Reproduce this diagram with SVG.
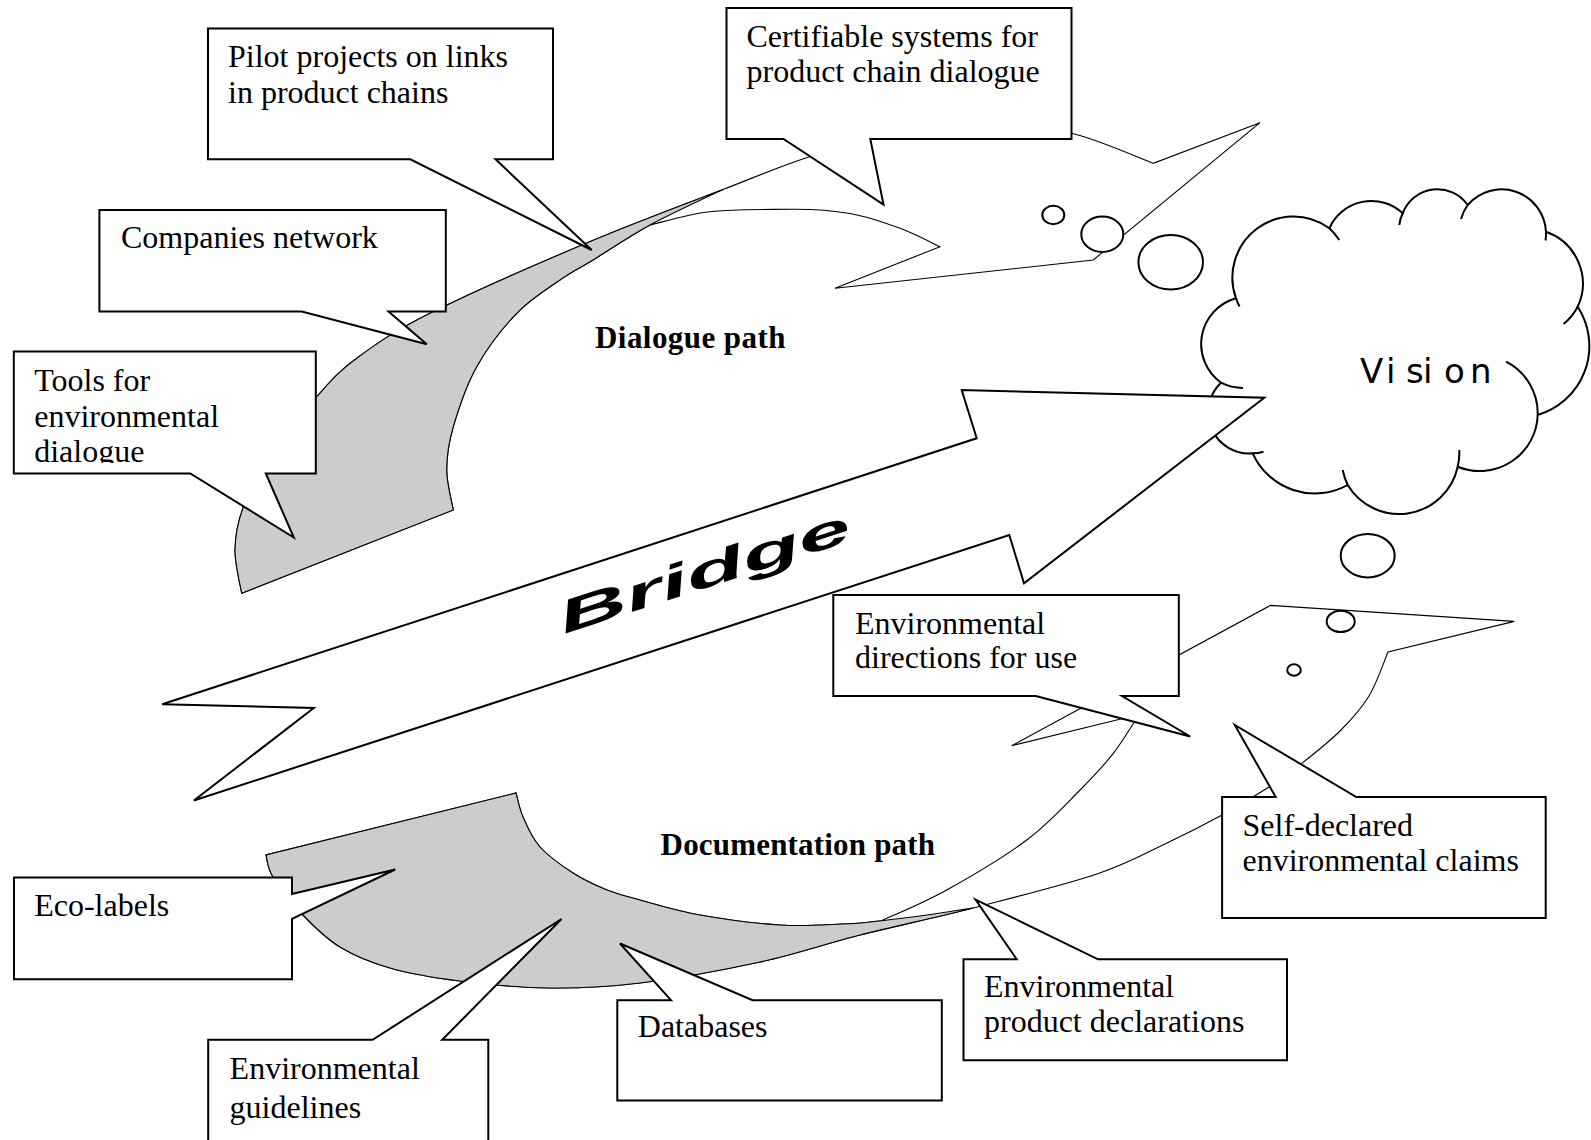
<svg xmlns="http://www.w3.org/2000/svg" width="1591" height="1140" viewBox="0 0 1591 1140">
<style>
.box{fill:#fff;stroke:#000;stroke-width:2;stroke-linejoin:miter}
.arr{fill:#fff;stroke:#000;stroke-width:1.1;stroke-linejoin:miter}
.gray{fill:#ccc;stroke:#000;stroke-width:1.1}
.bub{fill:#fff;stroke:#000;stroke-width:2}
.cl{fill:#fff;stroke:#000;stroke-width:2}
.stub{fill:none;stroke:#000;stroke-width:2}
.t{font-family:"Liberation Serif","Times New Roman",serif;font-size:32px;fill:#000}
.b{font-family:"Liberation Serif","Times New Roman",serif;font-size:31px;font-weight:bold;fill:#000}
</style>
<defs>
<clipPath id="toolsclip"><rect x="14" y="351" width="301" height="112"/></clipPath>
</defs>
<rect width="1591" height="1140" fill="#fff"/>

<g id="vision">
<path class="cl" d="M1236,298.3 A61 61 0 0 1 1329.3,228.3 A46 46 0 0 1 1402.7,213.3 A37 37 0 0 1 1467.7,205 A44.5 44.5 0 0 1 1546,231.7 A55 55 0 0 1 1577.7,306.7 A72 72 0 0 1 1537.7,415 A58 58 0 0 1 1457.7,466.7 A60 60 0 0 1 1347.7,485 A68 68 0 0 1 1252.7,453.3 A41 41 0 0 1 1221,382.7 A47.5 47.5 0 0 1 1236,298.3 Z"/>
<path class="stub" d="M1329.3,228.3 A61 61 0 0 1 1339.3,240 M1402.7,213.3 A37 37 0 0 0 1399.3,225 M1467.7,205 A44.5 44.5 0 0 0 1461,219 M1546,231.7 A44.5 44.5 0 0 1 1545.5,240.5 M1577.7,306.7 A55 55 0 0 1 1563.5,324 M1537.7,415 A58 58 0 0 0 1506,361.7 M1457.7,466.7 A60 60 0 0 0 1459.3,450 M1347.7,485 A60 60 0 0 1 1342.7,470 M1252.7,453.3 A41 41 0 0 0 1263.5,451.7 M1221,382.7 A47.5 47.5 0 0 0 1243,388 M1236,298.3 A61 61 0 0 0 1239.5,306.5"/>
<text x="1360 1386 1406 1423 1444 1470" y="383.3" font-family="DejaVu Sans, sans-serif" font-size="34" fill="#000">Vision</text>
</g>

<g id="connectors">
<g id="dialogue-path">
<path class="arr" d="M241.7,593.3 C240.6,586.1 234.8,564.2 235,550 C235.2,535.8 236.7,524.7 243,508 C249.3,491.3 260.7,468.6 273,450 C285.3,431.4 302.8,412 316.7,396.7 C330.6,381.4 337.8,372.2 356.7,358.3 C375.6,344.4 391.7,332.5 430,313.3 C468.3,294.1 537.9,263.6 586.7,243 C635.5,222.4 686.1,203.8 723,189.5 C759.9,175.2 778.5,167 808,157.3 C837.5,147.6 869.7,136.6 900,131 C930.3,125.4 961.4,123.6 990,124 C1018.6,124.4 1044.5,126.7 1071.7,133.3 C1098.9,139.9 1139.7,158.3 1153.3,163.3 L1260,122.7 L1093.3,260 L835,288.3 L940,246.7 C933.3,243.6 915,233.8 900,228.3 C885,222.8 868.3,216.7 850,213.5 C831.7,210.3 813.3,209 790,209.3 C766.7,209.6 733.3,209.1 710,211.7 C686.7,214.3 660,222.8 650,225 C628.3,236.8 608,250.8 593,260 C578,269.2 572.7,271.1 560,280 C547.3,288.9 530.6,298.9 516.7,313.3 C502.8,327.7 487.3,347.8 476.7,366.7 C466.1,385.6 458.3,409.5 453.3,426.7 C448.3,443.9 446.7,456.1 446.7,470 C446.7,483.9 452.2,503.3 453.3,510 Z"/>
<path class="gray" d="M241.7,593.3 C240.6,586.1 234.8,564.2 235,550 C235.2,535.8 236.7,524.7 243,508 C249.3,491.3 260.7,468.6 273,450 C285.3,431.4 302.8,412 316.7,396.7 C330.6,381.4 337.8,372.2 356.7,358.3 C375.6,344.4 391.7,332.5 430,313.3 C468.3,294.1 537.9,263.6 586.7,243 C635.5,222.4 686.1,203.8 723,189.5 C710.8,195.4 671.7,213.3 650,225 C628.3,236.8 608,250.8 593,260 C578,269.2 572.7,271.1 560,280 C547.3,288.9 530.6,298.9 516.7,313.3 C502.8,327.7 487.3,347.8 476.7,366.7 C466.1,385.6 458.3,409.5 453.3,426.7 C448.3,443.9 446.7,456.1 446.7,470 C446.7,483.9 452.2,503.3 453.3,510 Z"/>
</g>
<g id="documentation-path">
<path class="arr" d="M266,855 C267.2,858.7 266.8,867 273,877 C279.2,887 291.8,903.3 303,915 C314.2,926.7 325.5,938.2 340,947 C354.5,955.8 370,962.3 390,968 C410,973.7 433.3,977.7 460,981 C486.7,984.3 520,987.7 550,988 C580,988.3 605,987.3 640,983 C675,978.7 723.3,970 760,962 C796.7,954 824.5,944 860,935 C895.5,926 933.5,918.2 973,908 C1012.5,897.8 1064.3,885 1097,874 C1129.7,863 1148.2,851.8 1169,842 C1189.8,832.2 1205.3,824.2 1222,815 C1238.7,805.8 1255.8,795.5 1269,787 C1282.2,778.5 1289.2,773.3 1301,764 C1312.8,754.7 1328.7,742.3 1340,731 C1351.3,719.7 1361,709.2 1369,696 C1377,682.8 1384.8,659.3 1388,652 L1514.3,621.4 L1270.4,605.4 L1011.7,745.7 L1139,714.5 C1134.7,721 1123.1,740.7 1113.3,753.3 C1103.5,765.9 1094.4,775.5 1080,790 C1065.6,804.5 1048.9,823.3 1026.7,840 C1004.5,856.7 970.9,876.5 946.7,890 C922.5,903.5 892.5,915.6 881.7,920.7 C867.7,922.2 860,923.3 843,924 C826,924.7 803.8,926.5 780,925 C756.2,923.5 723.3,919.2 700,915 C676.7,910.8 655.5,904.2 640,900 C624.5,895.8 618.2,894.5 607,890 C595.8,885.5 584.2,880.2 573,873 C561.8,865.8 548.3,856.3 540,847 C531.7,837.7 527,826 523,817 C519,808 517.2,797 516,793 Z"/>
<path class="gray" d="M266,855 C267.2,858.7 266.8,867 273,877 C279.2,887 291.8,903.3 303,915 C314.2,926.7 325.5,938.2 340,947 C354.5,955.8 370,962.3 390,968 C410,973.7 433.3,977.7 460,981 C486.7,984.3 520,987.7 550,988 C580,988.3 605,987.3 640,983 C675,978.7 723.3,970 760,962 C796.7,954 824.5,944 860,935 C895.5,926 933.5,918.2 973,908 C965.3,909.2 942.2,912.9 927,915 C911.8,917.1 895.7,919.2 881.7,920.7 C867.7,922.2 860,923.3 843,924 C826,924.7 803.8,926.5 780,925 C756.2,923.5 723.3,919.2 700,915 C676.7,910.8 655.5,904.2 640,900 C624.5,895.8 618.2,894.5 607,890 C595.8,885.5 584.2,880.2 573,873 C561.8,865.8 548.3,856.3 540,847 C531.7,837.7 527,826 523,817 C519,808 517.2,797 516,793 Z"/>
</g>
<g id="bridge">
<polygon class="box" points="162.2,704.3 976.7,438.3 961.7,390 1264.3,397.7 1024,583.3 1009.3,535 193.9,800.5 313.8,708"/>
<text transform="translate(564,634) rotate(-18)" font-family="Liberation Sans, Arial, sans-serif" font-weight="bold" font-style="italic" font-size="46" textLength="305" lengthAdjust="spacingAndGlyphs" fill="#000">Bridge</text>
</g>
</g>

<g id="bubbles">
<ellipse class="bub" cx="1053.3" cy="215" rx="11" ry="9.3" stroke-width="1.6"/>
<ellipse class="bub" cx="1102.3" cy="234.3" rx="21" ry="17.7"/>
<ellipse class="bub" cx="1170.7" cy="262.3" rx="32.3" ry="27.3"/>
<ellipse class="bub" cx="1367.7" cy="555.7" rx="27" ry="21.7"/>
<ellipse class="bub" cx="1340.7" cy="621.4" rx="14" ry="10.7"/>
<ellipse class="bub" cx="1294" cy="670" rx="6.8" ry="5.7" stroke-width="1.6"/>
</g>

<g id="pilot-projects">
<path class="box" d="M208,28.4 H553 V159.3 H495.5 L591.7,250 L410.3,159.3 H208 Z"/>
<text class="t" x="228" y="67">Pilot projects on links</text>
<text class="t" x="228" y="102.6">in product chains</text>
</g>

<g id="certifiable-systems">
<path class="box" d="M726.5,8 H1071.5 V139 H870.3 L883.5,204.5 L783.5,139 H726.5 Z"/>
<text class="t" x="746.5" y="46.5">Certifiable systems for</text>
<text class="t" x="746.5" y="82.2">product chain dialogue</text>
</g>

<g id="companies-network">
<path class="box" d="M99.4,210 H445.8 V311.5 H388.5 L426.8,344.2 L301.8,311.5 H99.4 Z"/>
<text class="t" x="121" y="248.2">Companies network</text>
</g>

<g id="tools">
<path class="box" d="M13.8,351.5 H315.8 V473.4 H265.8 L293.8,537.5 L190.3,473.4 H13.8 Z"/>
<g clip-path="url(#toolsclip)">
<text class="t" x="34.2" y="391">Tools for</text>
<text class="t" x="34.2" y="426.7">environmental</text>
<text class="t" x="34.2" y="461.5">dialogue</text>
</g>
</g>

<g id="environmental-directions">
<path class="box" d="M833.3,595 H1178.8 V696 H1122 L1190.2,736.5 L1035.8,696 H833.3 Z"/>
<text class="t" x="855" y="633.5">Environmental</text>
<text class="t" x="855" y="668">directions for use</text>
</g>

<g id="self-declared">
<path class="box" d="M1222.1,797 H1275.7 L1234.8,725 L1356.3,797 H1545.7 V918 H1222.1 Z"/>
<text class="t" x="1242.5" y="835.7">Self-declared</text>
<text class="t" x="1242.5" y="871.2">environmental claims</text>
</g>

<g id="product-declarations">
<path class="box" d="M963.5,959.3 H1016.7 L975.5,899.5 L1098,959.3 H1287 V1060.2 H963.5 Z"/>
<text class="t" x="984" y="996.6">Environmental</text>
<text class="t" x="984" y="1032.2">product declarations</text>
</g>

<g id="databases">
<path class="box" d="M617.3,1000.2 H671 L620,943.5 L752.6,1000.2 H941.8 V1100.5 H617.3 Z"/>
<text class="t" x="637.8" y="1037.2">Databases</text>
</g>

<g id="eco-labels">
<path class="box" d="M14,877.5 H292 V894 L395.2,869.5 L292,918.8 V979.2 H14 Z"/>
<text class="t" x="34.2" y="916">Eco-labels</text>
</g>

<g id="environmental-guidelines">
<path class="box" d="M208.2,1146 V1039.8 H372.6 L561.5,919 L442.2,1039.8 H488.3 V1146"/>
<text class="t" x="229.6" y="1078.5">Environmental</text>
<text class="t" x="229.6" y="1118.4">guidelines</text>
</g>

<g id="labels">
<text class="b" x="595" y="348.3" textLength="190.5">Dialogue path</text>
<text class="b" x="660.6" y="855" textLength="274.4">Documentation path</text>
</g>
</svg>
